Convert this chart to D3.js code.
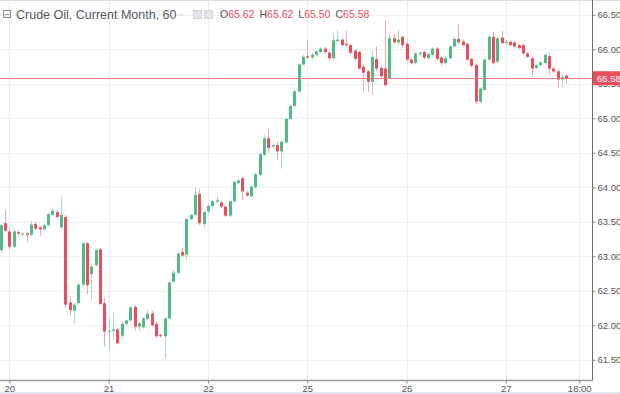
<!DOCTYPE html>
<html>
<head>
<meta charset="utf-8">
<script src="https://cdn.jsdelivr.net/npm/d3@7"></script>
<style>
  body { margin: 0; background: #fff; }
  text { font-family: "Liberation Sans", Arial, sans-serif; }
</style>
</head>
<body>
<div id="chart"></div>
<script>
var W = 620, H = 394;
var plotW = 592, plotH = 380;

// hourly candles, oldest first
var open = [63.09,63.48,63.36,63.14,63.35,63.32,63.33,63.31,63.47,63.42,63.39,63.45,63.60,63.64,63.42,63.57,62.33,62.21,62.32,62.59,
  63.19,62.74,62.87,63.10,62.32,61.91,61.92,61.94,61.85,62.02,62.07,62.27,61.98,61.97,62.09,62.17,62.02,61.86,61.84,62.10,
  62.63,62.76,63.06,63.02,63.54,63.60,63.90,63.47,63.65,63.73,63.79,63.78,63.72,63.59,63.80,64.06,64.13,63.92,63.87,64.00,
  64.18,64.47,64.71,64.59,64.61,64.52,64.65,64.99,65.18,65.39,65.78,65.90,65.88,65.92,65.96,66.01,65.95,65.87,66.12,66.14,
  66.08,66.06,65.98,65.96,65.75,65.68,65.53,65.86,65.73,65.72,65.58,66.16,66.10,66.18,66.08,65.85,65.80,65.93,65.96,65.87,
  65.92,66.01,65.88,65.80,65.87,66.04,66.15,66.11,66.08,65.86,65.77,65.24,65.41,65.85,66.18,65.82,66.17,66.09,66.11,66.10,
  66.06,66.06,65.94,65.87,65.73,65.77,65.80,65.90,65.72,65.68,65.56,65.62];
var high = [63.45,63.67,63.40,63.40,63.38,63.35,63.36,63.52,63.50,63.44,63.47,63.63,63.69,63.67,63.86,63.60,62.42,62.33,62.62,63.21,
  63.21,62.90,63.12,63.12,62.40,62.10,62.17,61.96,62.06,62.08,62.28,62.29,62.05,62.12,62.22,62.21,62.05,61.88,62.12,62.64,
  62.80,63.06,63.12,63.56,63.62,63.99,63.97,63.66,63.76,63.82,63.88,63.80,63.74,63.82,64.10,64.12,64.15,63.95,64.03,64.21,
  64.50,64.76,64.85,64.64,64.66,64.68,65.01,65.20,65.41,65.80,65.92,66.11,65.95,65.99,66.03,66.03,65.97,66.23,66.28,66.16,
  66.27,66.08,66.00,65.98,65.77,65.70,65.98,66.04,65.76,66.42,66.22,66.22,66.28,66.20,66.10,65.87,65.96,65.96,65.98,65.95,
  66.03,66.03,65.90,65.90,66.06,66.17,66.36,66.14,66.10,65.88,65.79,65.45,65.87,66.20,66.25,66.18,66.27,66.13,66.13,66.12,
  66.08,66.08,65.96,65.89,65.79,65.83,65.94,65.95,65.74,65.70,65.62,65.62];
var low = [63.05,63.36,63.10,63.12,63.30,63.29,63.21,63.29,63.37,63.30,63.37,63.43,63.58,63.55,63.39,62.26,62.14,62.03,62.30,62.55,
  62.45,62.37,62.85,62.29,61.69,61.64,61.79,61.72,61.80,62.00,62.05,61.93,61.92,61.95,62.07,61.98,61.82,61.82,61.52,62.08,
  62.62,62.74,62.99,62.95,63.52,63.58,63.45,63.42,63.62,63.71,63.77,63.69,63.57,63.57,63.78,64.04,63.82,63.86,63.85,63.98,
  64.16,64.45,64.50,64.56,64.40,64.27,64.63,64.97,65.16,65.37,65.76,65.86,65.86,65.90,65.94,65.94,65.83,65.85,66.10,66.04,
  66.03,65.93,65.84,65.70,65.39,65.38,65.34,65.68,65.58,65.46,65.55,66.08,66.06,66.02,65.82,65.78,65.78,65.90,65.85,65.85,
  65.90,65.84,65.76,65.78,65.85,66.02,66.08,66.04,65.83,65.74,65.20,65.22,65.39,65.83,65.78,65.80,66.07,66.07,66.04,66.02,
  66.00,65.92,65.87,65.62,65.71,65.75,65.78,65.63,65.66,65.45,65.45,65.50];
var close = [63.45,63.37,63.14,63.36,63.33,63.33,63.31,63.46,63.40,63.39,63.45,63.61,63.66,63.57,63.60,62.30,62.22,62.30,62.59,63.19,
  62.58,62.85,63.09,62.31,61.91,61.92,61.94,61.74,62.02,62.07,62.26,61.98,62.03,62.10,62.17,62.00,61.84,61.84,62.10,62.62,
  62.76,63.04,63.01,63.54,63.60,63.89,63.48,63.64,63.73,63.80,63.81,63.72,63.59,63.80,64.08,64.10,63.94,63.88,64.01,64.19,
  64.48,64.71,64.57,64.61,64.52,64.66,64.99,65.18,65.39,65.78,65.89,65.88,65.92,65.97,66.01,65.96,65.87,66.13,66.14,66.06,
  66.06,65.95,65.86,65.72,65.66,65.53,65.89,65.72,65.61,65.48,66.16,66.10,66.14,66.06,65.85,65.80,65.94,65.95,65.88,65.93,
  66.01,65.86,65.80,65.87,66.04,66.15,66.10,66.06,65.85,65.76,65.24,65.43,65.85,66.18,65.80,66.16,66.09,66.11,66.06,66.04,
  66.02,65.94,65.89,65.72,65.77,65.81,65.92,65.72,65.68,65.56,65.60,65.58];

var priceTicks = [61.5, 62, 62.5, 63, 63.5, 64, 64.5, 65, 65.5, 66, 66.5];
var dayLabels = ["20", "21", "22", "25", "26", "27", "18:00"];
var dayBars = [2, 25, 48, 71, 94, 117, 134];

var last = open.length - 1;
var up = "#53b987", down = "#eb4d5c";

var svg = d3.select("#chart").append("svg")
    .attr("width", W)
    .attr("height", H);

var x = d3.scaleLinear()
    .domain([-0.154, 136.95])
    .range([0, plotW]);

var y = d3.scaleLinear()
    .domain([61.207, 66.714])
    .range([plotH, 0]);

svg.append("line")
    .attr("x1", 0).attr("x2", W)
    .attr("y1", 0.5).attr("y2", 0.5)
    .style("stroke", "#d9dbe0");

// grid
svg.append("g").selectAll("line")
    .data(priceTicks)
    .join("line")
    .attr("x1", 0).attr("x2", plotW)
    .attr("y1", d => Math.round(y(d)) + 0.5)
    .attr("y2", d => Math.round(y(d)) + 0.5)
    .style("stroke", "#edf0f3");

svg.append("g").selectAll("line")
    .data(dayBars)
    .join("line")
    .attr("x1", d => Math.round(x(d)) + 0.5)
    .attr("x2", d => Math.round(x(d)) + 0.5)
    .attr("y1", 0).attr("y2", plotH)
    .style("stroke", "#e6eef2");

// candles
var idx = d3.range(open.length);
var candles = svg.append("g");

candles.selectAll("line")
    .data(idx)
    .join("line")
    .attr("x1", k => Math.round(x(k)) + 0.5)
    .attr("x2", k => Math.round(x(k)) + 0.5)
    .attr("y1", k => y(high[k]))
    .attr("y2", k => y(low[k]))
    .style("stroke", k => close[k] >= open[k] ? up : down)
    .style("stroke-opacity", 0.5);

candles.selectAll("rect")
    .data(idx)
    .join("rect")
    .attr("x", k => Math.round(x(k)) - 1)
    .attr("width", 3)
    .attr("y", k => y(Math.max(open[k], close[k])))
    .attr("height", k => Math.max(1, Math.abs(y(open[k]) - y(close[k]))))
    .style("fill", k => close[k] >= open[k] ? up : down);

// last price line
svg.append("line")
    .attr("x1", 0).attr("x2", plotW)
    .attr("y1", Math.round(y(close[last])) + 0.5)
    .attr("y2", Math.round(y(close[last])) + 0.5)
    .style("stroke", "#f07a85");

// axes
var yAxis = d3.axisRight(y)
    .tickValues(priceTicks)
    .tickFormat(d3.format(".2f"))
    .tickSize(3)
    .tickPadding(2);

var gy = svg.append("g")
    .attr("transform", "translate(" + (plotW + 0.5) + ",0)")
    .call(yAxis);
gy.select(".domain").attr("d", "M0,0V" + plotH).style("stroke", "#6b6b6b");
gy.selectAll(".tick line").style("stroke", "#888");
gy.selectAll(".tick text")
    .style("font-size", "9.5px")
    .style("font-family", "Liberation Sans, Arial, sans-serif")
    .style("fill", "#555");

var xAxis = d3.axisBottom(x)
    .tickValues(dayBars)
    .tickFormat((d, i) => dayLabels[i])
    .tickSize(3)
    .tickPadding(2);

var gx = svg.append("g")
    .attr("transform", "translate(0," + (plotH + 0.5) + ")")
    .call(xAxis);
gx.select(".domain").attr("d", "M0,0H" + (plotW + 1)).style("stroke", "#9a9a9a").style("stroke-width", 1.5);
gx.selectAll(".tick line").style("stroke", "#888");
gx.selectAll(".tick text")
    .style("font-size", "9.5px")
    .style("font-family", "Liberation Sans, Arial, sans-serif")
    .style("fill", "#555");

// last price tag
var ly = y(close[last]);
svg.append("rect")
    .attr("x", plotW + 1).attr("y", ly - 7)
    .attr("width", W - plotW - 1).attr("height", 14)
    .style("fill", down);
svg.append("text")
    .attr("x", plotW + 5).attr("y", ly + 3.5)
    .style("font-size", "9.5px")
    .style("fill", "#fff")
    .text(close[last].toFixed(2));

svg.append("rect")
    .attr("x", 0).attr("y", 392)
    .attr("width", W).attr("height", 2)
    .style("fill", "#e4e7ef");

// header
var hd = svg.append("g");
hd.append("rect")
    .attr("x", 3.5).attr("y", 10.5)
    .attr("width", 7).attr("height", 7)
    .style("fill", "none").style("stroke", "#8a8f98");
hd.append("line")
    .attr("x1", 5).attr("x2", 9)
    .attr("y1", 14.5).attr("y2", 14.5)
    .style("stroke", "#8a8f98");

hd.append("text")
    .attr("x", 16).attr("y", 19)
    .style("font-size", "12.5px")
    .style("fill", "#535a64")
    .text("Crude Oil, Current Month, 60");

hd.append("text")
    .attr("x", 180).attr("y", 17)
    .style("font-size", "9px")
    .style("fill", "#b0b4ba")
    .text("-");

[193, 204].forEach(function(bx) {
  hd.append("rect")
      .attr("x", bx + 0.5).attr("y", 10.5)
      .attr("width", 8).attr("height", 8)
      .style("fill", "#e3e5e8").style("stroke", "#cfd2d6");
});

var ohlc = hd.append("text")
    .attr("x", 220).attr("y", 18)
    .style("font-size", "10.5px");
[["O", open[last]], ["H", high[last]], ["L", low[last]], ["C", close[last]]].forEach(function(p, i) {
  ohlc.append("tspan").attr("dx", i ? 5 : 0).style("fill", "#555").text(p[0]);
  ohlc.append("tspan").style("fill", down).text(p[1].toFixed(2));
});
</script>
</body>
</html>
